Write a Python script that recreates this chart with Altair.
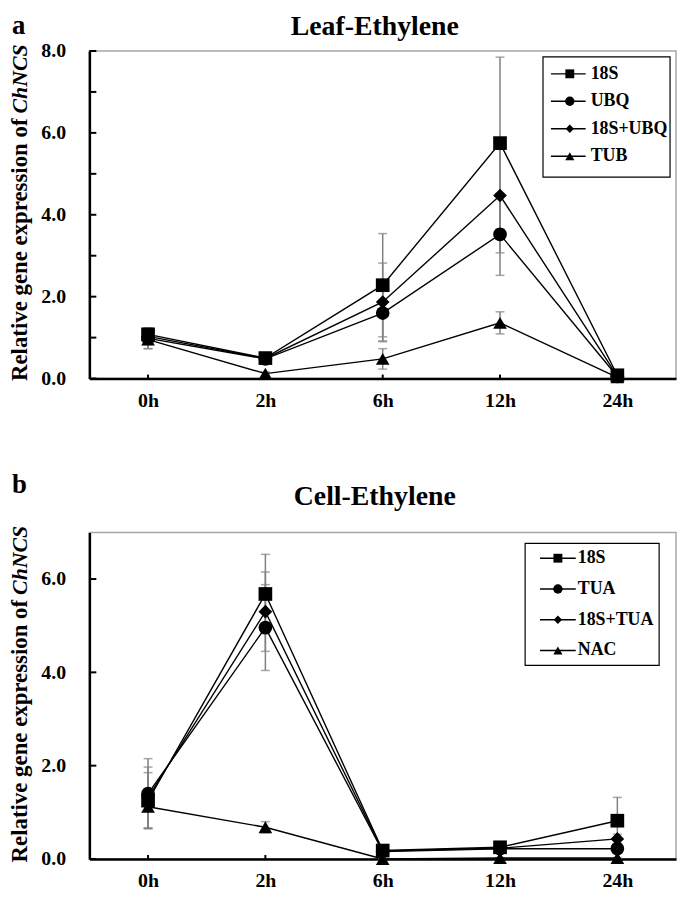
import altair as alt
import pandas as pd

times = ["0h", "2h", "6h", "12h", "24h"]

# Panel a: Leaf-Ethylene
leaf_names = ["18S", "UBQ", "18S+UBQ", "TUB"]
leaf_18S = [1.08, 0.50, 2.28, 5.75, 0.08]
leaf_18S_err = [0.15, 0.07, 1.26, 2.10, 0.05]
leaf_UBQ = [0.98, 0.48, 1.60, 3.52, 0.05]
leaf_UBQ_err = [0.25, 0.06, 0.70, 1.00, 0.03]
leaf_18SUBQ = [1.03, 0.49, 1.87, 4.47, 0.06]
leaf_18SUBQ_err = [0.20, 0.06, 0.95, 1.40, 0.04]
leaf_TUB = [0.95, 0.12, 0.48, 1.36, 0.03]
leaf_TUB_err = [0.22, 0.04, 0.25, 0.27, 0.02]

# Panel b: Cell-Ethylene
cell_names = ["18S", "TUA", "18S+TUA", "NAC"]
cell_18S = [1.25, 5.68, 0.18, 0.25, 0.82]
cell_18S_err = [0.60, 0.85, 0.03, 0.04, 0.50]
cell_TUA = [1.40, 4.96, 0.16, 0.22, 0.22]
cell_TUA_err = [0.75, 0.92, 0.03, 0.03, 0.05]
cell_18STUA = [1.32, 5.30, 0.17, 0.23, 0.43]
cell_18STUA_err = [0.65, 0.85, 0.03, 0.03, 0.10]
cell_NAC = [1.12, 0.68, 0.00, 0.02, 0.02]
cell_NAC_err = [0.10, 0.12, 0.01, 0.01, 0.01]

shapes = ["square", "circle", "diamond", "triangle-up"]
legend_sizes = [80, 90, 70, 85]

leaf_ticks = [0, 1, 2, 3, 4, 5, 6, 7, 8]
leaf_labels = [0, 2, 4, 6, 8]
cell_ticks = [0, 2, 4, 6]
cell_labels = [0, 2, 4, 6]

FONT = "Liberation Serif"
GRAY = "#808080"


def make_df(names, values, errors):
    rows = []
    for n, vals, errs in zip(names, values, errors):
        for t, v, e in zip(times, vals, errs):
            rows.append({"series": n, "time": t, "value": v,
                         "lo": max(v - e, 0.0), "hi": v + e})
    return pd.DataFrame(rows)


def panel(names, values, errors, ymax, tick_vals, label_vals, title, letter,
          W, H, leg, title_y, letter_y):
    df = make_df(names, values, errors)
    xaxis = alt.Axis(title=None, labelAngle=0, ticks=False, domainColor="black",
                     domainWidth=2.5, labelFont=FONT, labelFontWeight="bold",
                     labelFontSize=20, labelColor="black", labelPadding=12,
                     grid=False)
    X = alt.X("time:O", scale=alt.Scale(type="point", domain=times, padding=0.5),
              axis=xaxis)
    yscale = alt.Scale(domain=[0, ymax], nice=False, zero=True)
    yaxis = alt.Axis(title=None, values=label_vals, format=".1f", ticks=False,
                     grid=False, domainColor="black", domainWidth=2.5,
                     labelFont=FONT, labelFontWeight="bold", labelFontSize=20,
                     labelColor="black", labelPadding=24)
    shape_scale = alt.Scale(domain=names, range=shapes)
    base = alt.Chart(df)

    err_rule = base.mark_rule(color=GRAY, strokeWidth=1.5).encode(
        x=X, y=alt.Y("lo:Q", scale=yscale, axis=None), y2="hi:Q")
    cap_lo = base.mark_tick(color=GRAY, size=9, thickness=1.5).encode(
        x=X, y=alt.Y("lo:Q", scale=yscale, axis=None))
    cap_hi = base.mark_tick(color=GRAY, size=9, thickness=1.5).encode(
        x=X, y=alt.Y("hi:Q", scale=yscale, axis=None))
    line = base.mark_line(color="black", strokeWidth=1.4).encode(
        x=X, y=alt.Y("value:Q", scale=yscale, axis=yaxis), detail="series:N")
    pts = base.mark_point(filled=True, color="black", opacity=1, size=190).encode(
        x=X, y=alt.Y("value:Q", scale=yscale, axis=None),
        shape=alt.Shape("series:N", scale=shape_scale, legend=None))

    xt = alt.Chart(pd.DataFrame({"time": times})).mark_rule(
        color="black", strokeWidth=2).encode(x=X, y=alt.value(H - 4), y2=alt.value(H))
    yt = alt.Chart(pd.DataFrame({"tick": tick_vals})).mark_rule(
        color="black", strokeWidth=2).encode(
        y=alt.Y("tick:Q", scale=yscale, axis=None), x=alt.value(0), x2=alt.value(7))

    bx0, bx1, by0, by1, r0, r1, lx0, lx1, mx, tx = leg
    one = pd.DataFrame({"a": [0]})
    ld = pd.DataFrame({"series": names, "sz": legend_sizes})
    ly = alt.Y("series:N", scale=alt.Scale(type="point", domain=names,
                                            range=[r0, r1], padding=0), axis=None)
    box = alt.Chart(one).mark_rect(fill="white", stroke="black", strokeWidth=1.2).encode(
        x=alt.value(bx0), x2=alt.value(bx1), y=alt.value(by0), y2=alt.value(by1))
    lrule = alt.Chart(ld).mark_rule(color="black", strokeWidth=1.4).encode(
        x=alt.value(lx0), x2=alt.value(lx1), y=ly)
    lpt = alt.Chart(ld).mark_point(filled=True, color="black", opacity=1).encode(
        x=alt.value(mx), y=ly,
        shape=alt.Shape("series:N", scale=shape_scale, legend=None),
        size=alt.Size("sz:Q", scale=None, legend=None))
    ltxt = alt.Chart(ld).mark_text(align="left", baseline="middle", font=FONT,
                                   fontWeight="bold", fontSize=18, color="black").encode(
        x=alt.value(tx), y=ly, text="series:N")

    ttl = alt.Chart(one).mark_text(text=title, font=FONT, fontWeight="bold",
                                   fontSize=28, align="center", baseline="alphabetic",
                                   color="black").encode(
        x=alt.value(W / 2 - 8), y=alt.value(title_y))
    let = alt.Chart(one).mark_text(text=letter, font=FONT, fontWeight="bold",
                                   fontSize=27, align="left", baseline="alphabetic",
                                   color="black").encode(
        x=alt.value(-78), y=alt.value(letter_y))
    yt1 = alt.Chart(one).mark_text(text="Relative gene expression of", font=FONT,
                                   fontWeight="bold", fontSize=23, angle=270,
                                   align="right", baseline="middle", color="black").encode(
        x=alt.value(-70), y=alt.value(68))
    yt2 = alt.Chart(one).mark_text(text="ChNCS", font=FONT, fontWeight="bold",
                                   fontStyle="italic", fontSize=22, angle=270,
                                   align="left", baseline="middle", color="black").encode(
        x=alt.value(-70), y=alt.value(63))

    return alt.layer(err_rule, cap_lo, cap_hi, line, pts, xt, yt, box, lrule, lpt,
                     ltxt, ttl, let, yt1, yt2).resolve_scale(
        y="independent").properties(width=W, height=H)


top = panel(leaf_names, [leaf_18S, leaf_UBQ, leaf_18SUBQ, leaf_TUB],
            [leaf_18S_err, leaf_UBQ_err, leaf_18SUBQ_err, leaf_TUB_err],
            8, leaf_ticks, leaf_labels, "Leaf-Ethylene", "a", 591, 330,
            (457, 585, 6, 127, 23, 106, 465, 500, 484, 505), -16, -17)
bottom = panel(cell_names, [cell_18S, cell_TUA, cell_18STUA, cell_NAC],
               [cell_18S_err, cell_TUA_err, cell_18STUA_err, cell_NAC_err],
               7, cell_ticks, cell_labels, "Cell-Ethylene", "b", 591, 329,
               (439, 574, 11, 134, 26, 119, 454, 490, 472, 492), -28, -40)

chart = alt.vconcat(top, bottom, spacing=59).resolve_scale(
    shape="independent", x="independent").configure_view(
    stroke="#a6a6a6", strokeWidth=1.5).properties(
    padding={"left": 0, "top": 0, "right": 0, "bottom": 0}, background="white")

chart.save("out.html", embed_options={"renderer": "svg", "actions": False})
